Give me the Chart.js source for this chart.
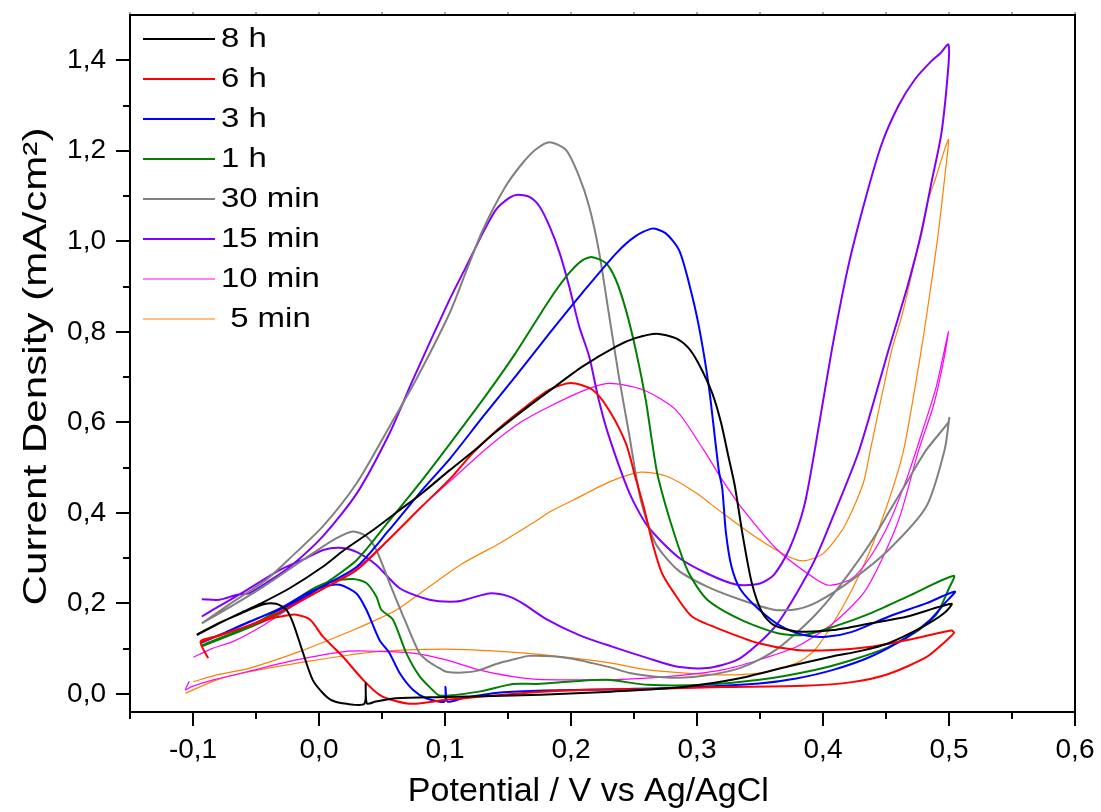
<!DOCTYPE html>
<html><head><meta charset="utf-8">
<script src="https://cdn.jsdelivr.net/npm/chart.js@4.4.1/dist/chart.umd.min.js"></script>
<style>html,body{margin:0;padding:0;background:#fff;} #wrap{width:1101px;height:812px;}</style>
</head><body><div id="wrap"><canvas id="c" width="1101" height="812"></canvas></div>
<script>
const FONT = '"Liberation Sans", Arial, Helvetica, sans-serif';

const seriesLabels = ['8 h', '6 h', '3 h', '1 h', '30 min', '15 min', '10 min', ' 5 min'];
const seriesColors = ['#000000', '#ff0000', '#0000ff', '#008000', '#808080', '#8000ff', '#ff00ff', '#ff8000'];
const seriesWidths = [2, 2, 2, 2, 2, 2, 1.2, 1.2];
const yTitle = 'Current Density (mA/cm²)';
const xTitle = 'Potential / V vs Ag/AgCl';

const xTicks = [-0.1, 0.0, 0.1, 0.2, 0.3, 0.4, 0.5, 0.6];
const yTicks = [0.0, 0.2, 0.4, 0.6, 0.8, 1.0, 1.2, 1.4];
const xMinorTicks = [-0.15, -0.05, 0.05, 0.15, 0.25, 0.35, 0.45, 0.55];
const yMinorTicks = [0.1, 0.3, 0.5, 0.7, 0.9, 1.1, 1.3];

// [potential V, current density mA/cm2], forward then reverse scan
const cv8h = [
[-0.097,0.130],[-0.080,0.155],[-0.060,0.182],[-0.044,0.203],[-0.023,0.234],[0.003,0.281],[0.020,0.318],[0.043,0.362],[0.062,0.402],[0.082,0.444],[0.104,0.495],[0.122,0.535],[0.140,0.578],[0.160,0.622],[0.183,0.670],[0.209,0.723],[0.236,0.768],[0.251,0.786],[0.268,0.796],[0.283,0.786],[0.293,0.765],[0.301,0.731],[0.312,0.665],[0.319,0.600],[0.3245,0.530],[0.330,0.460],[0.336,0.355],[0.3435,0.245],[0.352,0.178],[0.361,0.152],[0.379,0.138],[0.408,0.141],[0.438,0.156],[0.467,0.171],[0.502,0.199],
[0.496,0.178],[0.479,0.148],[0.452,0.112],[0.430,0.095],[0.408,0.083],[0.373,0.061],[0.335,0.035],[0.291,0.016],[0.232,0.005],[0.176,-0.002],[0.101,-0.007],[0.061,-0.0095],[0.045,-0.017],[0.038,-0.021],[0.037,0.024],[0.036,-0.022],[0.022,-0.022],[0.010,-0.014],[0.003,0.002],[-0.005,0.031],[-0.0126,0.090],[-0.0205,0.156],[-0.026,0.186],[-0.034,0.199],[-0.044,0.198],[-0.060,0.180],[-0.080,0.156],[-0.097,0.131]
];
const cv6h = [
[-0.088,0.079],[-0.094,0.116],[-0.080,0.128],[-0.060,0.147],[-0.044,0.164],[-0.023,0.193],[0.003,0.232],[0.030,0.274],[0.055,0.340],[0.082,0.415],[0.104,0.475],[0.122,0.532],[0.140,0.580],[0.162,0.630],[0.183,0.672],[0.200,0.687],[0.217,0.672],[0.230,0.628],[0.2435,0.554],[0.251,0.480],[0.258,0.410],[0.265,0.330],[0.272,0.268],[0.282,0.222],[0.296,0.171],[0.320,0.141],[0.349,0.112],[0.379,0.097],[0.408,0.097],[0.438,0.104],[0.467,0.119],[0.502,0.140],
[0.504,0.135],[0.496,0.113],[0.482,0.081],[0.452,0.044],[0.423,0.026],[0.385,0.018],[0.320,0.015],[0.261,0.011],[0.202,0.008],[0.154,0.000],[0.101,-0.013],[0.0745,-0.022],[0.060,-0.015],[0.048,-0.002],[0.035,0.031],[0.019,0.082],[0.003,0.127],[-0.007,0.164],[-0.018,0.175],[-0.026,0.173],[-0.040,0.165],[-0.060,0.147],[-0.080,0.129],[-0.094,0.114]
];
const cv3h = [
[-0.094,0.113],[-0.075,0.135],[-0.055,0.160],[-0.040,0.177],[-0.023,0.197],[0.003,0.238],[0.030,0.281],[0.055,0.360],[0.082,0.451],[0.104,0.520],[0.130,0.612],[0.155,0.698],[0.183,0.797],[0.209,0.886],[0.236,0.974],[0.251,1.011],[0.2645,1.028],[0.275,1.018],[0.2857,0.981],[0.2936,0.908],[0.3015,0.812],[0.3094,0.679],[0.3147,0.554],[0.3175,0.490],[0.320,0.455],[0.323,0.355],[0.3274,0.281],[0.3347,0.230],[0.3494,0.186],[0.367,0.149],[0.3847,0.130],[0.4024,0.126],[0.423,0.137],[0.4524,0.171],[0.4818,0.200],[0.5047,0.226],
[0.4965,0.200],[0.4847,0.163],[0.467,0.126],[0.4376,0.082],[0.408,0.053],[0.3788,0.034],[0.3494,0.023],[0.2906,0.014],[0.232,0.010],[0.173,0.007],[0.140,0.002],[0.114,-0.0095],[0.102,-0.017],[0.1004,0.016],[0.0996,-0.017],[0.085,-0.0095],[0.0745,0.009],[0.064,0.046],[0.056,0.090],[0.048,0.119],[0.0376,0.186],[0.0297,0.222],[0.0165,0.241],[0.005,0.238],[-0.010,0.222],[-0.030,0.190],[-0.055,0.159],[-0.094,0.112]
];
const cv1h = [
[-0.093,0.105],[-0.075,0.125],[-0.055,0.147],[-0.040,0.165],[-0.023,0.192],[0.003,0.240],[0.030,0.296],[0.055,0.380],[0.082,0.473],[0.104,0.553],[0.130,0.650],[0.156,0.753],[0.183,0.871],[0.1986,0.930],[0.209,0.958],[0.217,0.965],[0.2276,0.952],[0.2356,0.915],[0.2435,0.849],[0.2514,0.760],[0.2593,0.650],[0.2645,0.554],[0.269,0.480],[0.2818,0.355],[0.2935,0.267],[0.3082,0.208],[0.3347,0.164],[0.364,0.134],[0.3847,0.130],[0.408,0.148],[0.4376,0.178],[0.467,0.215],[0.5038,0.261],
[0.4994,0.230],[0.4906,0.178],[0.476,0.141],[0.4524,0.104],[0.423,0.075],[0.3935,0.053],[0.3494,0.031],[0.3053,0.020],[0.261,0.020],[0.229,0.031],[0.2023,0.028],[0.173,0.022],[0.154,0.022],[0.127,0.005],[0.101,-0.004],[0.095,-0.003],[0.090,0.009],[0.080,0.038],[0.0693,0.090],[0.0587,0.164],[0.0495,0.186],[0.0455,0.215],[0.0376,0.245],[0.027,0.254],[0.0086,0.248],[-0.005,0.232],[-0.020,0.205],[-0.050,0.157],[-0.093,0.107]
];
const cv30min = [
[-0.093,0.156],[-0.070,0.200],[-0.042,0.252],[-0.023,0.300],[0.003,0.370],[0.030,0.466],[0.056,0.591],[0.077,0.694],[0.1036,0.841],[0.117,0.935],[0.130,1.025],[0.148,1.121],[0.1616,1.173],[0.172,1.203],[0.183,1.219],[0.196,1.202],[0.2065,1.143],[0.2144,1.077],[0.222,0.981],[0.230,0.841],[0.238,0.701],[0.246,0.576],[0.2553,0.429],[0.267,0.333],[0.2847,0.274],[0.308,0.237],[0.3347,0.208],[0.361,0.186],[0.379,0.187],[0.396,0.204],[0.423,0.252],[0.452,0.318],[0.482,0.414],[0.4965,0.539],[0.5002,0.610],
[0.4995,0.600],[0.482,0.539],[0.467,0.470],[0.452,0.400],[0.438,0.335],[0.423,0.275],[0.408,0.220],[0.394,0.175],[0.379,0.135],[0.364,0.100],[0.349,0.075],[0.335,0.058],[0.320,0.047],[0.305,0.040],[0.290,0.036],[0.276,0.036],[0.261,0.040],[0.2465,0.046],[0.232,0.058],[0.217,0.068],[0.2023,0.077],[0.185,0.083],[0.167,0.084],[0.154,0.076],[0.1405,0.066],[0.127,0.052],[0.114,0.047],[0.101,0.049],[0.0956,0.057],[0.0877,0.070],[0.0798,0.090],[0.068,0.164],[0.056,0.245],[0.0455,0.318],[0.0376,0.348],[0.027,0.359],[0.0139,0.344],[-0.0047,0.311],[-0.044,0.237],[-0.070,0.193],[-0.093,0.156]
];
const cv15min = [
[-0.093,0.209],[-0.079,0.208],[-0.065,0.219],[-0.055,0.223],[-0.042,0.245],[-0.023,0.281],[0.003,0.348],[0.030,0.443],[0.056,0.576],[0.0745,0.694],[0.1036,0.871],[0.1168,0.944],[0.130,1.018],[0.1405,1.070],[0.151,1.096],[0.1576,1.103],[0.167,1.098],[0.175,1.077],[0.183,1.033],[0.191,0.974],[0.1986,0.900],[0.2065,0.812],[0.2144,0.746],[0.222,0.650],[0.230,0.570],[0.2465,0.443],[0.261,0.370],[0.2847,0.303],[0.308,0.266],[0.3318,0.241],[0.350,0.244],[0.361,0.263],[0.373,0.318],[0.385,0.414],[0.3935,0.539],[0.407,0.760],[0.420,0.944],[0.4335,1.092],[0.4466,1.215],[0.460,1.300],[0.473,1.358],[0.486,1.398],[0.493,1.415],[0.4995,1.435],
[0.4995,1.387],[0.494,1.239],[0.486,1.129],[0.478,1.018],[0.4678,0.908],[0.460,0.834],[0.452,0.760],[0.4288,0.539],[0.408,0.392],[0.3935,0.296],[0.379,0.222],[0.364,0.156],[0.349,0.112],[0.3318,0.075],[0.308,0.057],[0.2847,0.060],[0.261,0.079],[0.232,0.105],[0.2065,0.130],[0.180,0.166],[0.1616,0.200],[0.150,0.216],[0.135,0.222],[0.120,0.211],[0.109,0.204],[0.0877,0.208],[0.064,0.2335],[0.0455,0.285],[0.0297,0.314],[0.0165,0.323],[0.0033,0.318],[-0.010,0.300],[-0.031,0.274],[-0.057,0.230],[-0.084,0.186],[-0.093,0.171]
];
const cv10min = [
[-0.0997,0.081],[-0.085,0.100],[-0.068,0.116],[-0.045,0.150],[-0.023,0.190],[0.003,0.232],[0.030,0.278],[0.055,0.340],[0.082,0.415],[0.104,0.470],[0.135,0.547],[0.160,0.600],[0.183,0.635],[0.210,0.670],[0.230,0.686],[0.257,0.672],[0.283,0.628],[0.3053,0.539],[0.320,0.473],[0.3347,0.414],[0.364,0.318],[0.3935,0.255],[0.405,0.240],[0.423,0.255],[0.4376,0.303],[0.4524,0.377],[0.467,0.480],[0.480,0.590],[0.490,0.680],[0.4995,0.800],
[0.496,0.740],[0.488,0.640],[0.476,0.539],[0.461,0.392],[0.4465,0.296],[0.432,0.222],[0.408,0.156],[0.379,0.104],[0.349,0.075],[0.320,0.053],[0.276,0.038],[0.232,0.031],[0.206,0.031],[0.173,0.032],[0.154,0.038],[0.127,0.053],[0.101,0.075],[0.0745,0.090],[0.048,0.094],[0.0218,0.094],[-0.018,0.075],[-0.057,0.049],[-0.084,0.031],[-0.101,0.016],[-0.106,0.009],[-0.103,0.028]
];
const cv5min = [
[-0.0997,0.027],[-0.081,0.042],[-0.055,0.057],[-0.0152,0.094],[0.0244,0.138],[0.045,0.163],[0.0617,0.186],[0.085,0.232],[0.1145,0.289],[0.1435,0.333],[0.170,0.378],[0.183,0.402],[0.2023,0.429],[0.232,0.470],[0.2553,0.490],[0.276,0.481],[0.2994,0.444],[0.320,0.400],[0.3494,0.341],[0.373,0.303],[0.385,0.294],[0.400,0.310],[0.417,0.370],[0.432,0.466],[0.4376,0.539],[0.4546,0.760],[0.4625,0.834],[0.473,0.959],[0.4836,1.092],[0.489,1.136],[0.4995,1.225],
[0.497,1.151],[0.4915,1.018],[0.486,0.908],[0.478,0.760],[0.464,0.539],[0.4524,0.429],[0.4376,0.318],[0.423,0.230],[0.408,0.156],[0.3935,0.097],[0.379,0.068],[0.3494,0.046],[0.320,0.042],[0.2906,0.046],[0.261,0.053],[0.232,0.068],[0.2023,0.079],[0.173,0.088],[0.1435,0.094],[0.101,0.099],[0.048,0.094],[0.0244,0.086],[-0.0152,0.069],[-0.055,0.049],[-0.081,0.031],[-0.106,0.0015]
];

const seriesData = [cv8h, cv6h, cv3h, cv1h, cv30min, cv15min, cv10min, cv5min];

const fmt = v => Number(v).toFixed(1).replace('.', ',');

const frameAndMinor = {
  id: 'frameAndMinor',
  afterDraw(chart) {
    const {ctx, chartArea: a, scales: {x, y}} = chart;
    ctx.save();
    ctx.strokeStyle = '#000';
    ctx.lineWidth = 2;
    ctx.beginPath();
    ctx.moveTo(a.left, a.top); ctx.lineTo(a.right, a.top); ctx.lineTo(a.right, a.bottom);
    ctx.stroke();
    ctx.beginPath();
    xMinorTicks.forEach(v => { const p = Math.round(x.getPixelForValue(v)); ctx.moveTo(p, a.bottom); ctx.lineTo(p, a.bottom + 7); });
    yMinorTicks.forEach(v => { const p = Math.round(y.getPixelForValue(v)); ctx.moveTo(a.left - 7, p); ctx.lineTo(a.left, p); });
    ctx.stroke();
    ctx.strokeStyle = '#a8a8a8';
    ctx.beginPath();
    xTicks.concat(xMinorTicks).forEach(v => { const p = Math.round(x.getPixelForValue(v)); ctx.moveTo(p, a.top - 1); ctx.lineTo(p, a.top - 3); });
    ctx.stroke();
    // y axis title, centred on the plot area
    ctx.fillStyle = '#000';
    ctx.font = '34px ' + FONT;
    ctx.textAlign = 'center';
    ctx.textBaseline = 'middle';
    ctx.translate(37, (a.top + a.bottom) / 2 + 3);
    ctx.rotate(-Math.PI / 2);
    ctx.scale(1.24, 1);
    ctx.fillText(yTitle, 0, 0);
    ctx.restore();
  }
};

const insideLegend = {
  id: 'insideLegend',
  afterDatasetsDraw(chart) {
    const ctx = chart.ctx;
    ctx.save();
    chart.data.datasets.forEach((ds, i) => {
      const yy = 39 + 40 * i;
      ctx.strokeStyle = ds.borderColor;
      ctx.lineWidth = ds.borderWidth;
      ctx.beginPath(); ctx.moveTo(143, yy); ctx.lineTo(215, yy); ctx.stroke();
      ctx.save();
      ctx.fillStyle = '#000';
      ctx.font = '27px ' + FONT;
      ctx.textBaseline = 'middle';
      ctx.textAlign = 'left';
      ctx.translate(221, yy + 1);
      ctx.scale(1.22, 1);
      ctx.fillText(ds.label, 0, 0);
      ctx.restore();
    });
    ctx.restore();
  }
};

new Chart(document.getElementById('c'), {
  type: 'scatter',
  data: {
    datasets: seriesData.map((d, i) => ({
      label: seriesLabels[i],
      data: d.map(p => ({x: p[0], y: p[1]})),
      showLine: true,
      borderColor: seriesColors[i],
      backgroundColor: seriesColors[i],
      borderWidth: seriesWidths[i],
      pointRadius: 0,
      tension: 0.25,
      fill: false
    }))
  },
  options: {
    responsive: false,
    animation: false,
    devicePixelRatio: 1,
    layout: {padding: {top: 15, right: 26, bottom: 0, left: 0}},
    plugins: {legend: {display: false}, tooltip: {enabled: false}},
    scales: {
      x: {
        type: 'linear', min: -0.15, max: 0.6,
        afterBuildTicks: s => { s.ticks = xTicks.map(v => ({value: v})); },
        afterFit: s => { s.height = 100; s.paddingLeft = 0; s.paddingRight = 0; },
        ticks: {callback: fmt, font: {size: 28, family: FONT}, color: '#000', padding: 7, maxRotation: 0, autoSkip: false},
        grid: {display: true, drawOnChartArea: false, drawTicks: true, tickLength: 14, tickWidth: 2, tickColor: '#000', lineWidth: 2, color: '#000'},
        border: {display: true, color: '#000', width: 2},
        title: {display: true, text: xTitle + '   ', font: {size: 34, family: FONT}, color: '#000', padding: {top: 0, bottom: 0}}
      },
      y: {
        type: 'linear', min: -0.04, max: 1.5,
        afterBuildTicks: s => { s.ticks = yTicks.map(v => ({value: v})); },
        afterFit: s => { s.width = 130; s.paddingTop = 0; s.paddingBottom = 0; },
        ticks: {callback: fmt, font: {size: 28, family: FONT}, color: '#000', padding: 10, autoSkip: false},
        grid: {display: true, drawOnChartArea: false, drawTicks: true, tickLength: 14, tickWidth: 2, tickColor: '#000', lineWidth: 2, color: '#000'},
        border: {display: true, color: '#000', width: 2},
        title: {display: false}
      }
    }
  },
  plugins: [frameAndMinor, insideLegend]
});
</script></body></html>
